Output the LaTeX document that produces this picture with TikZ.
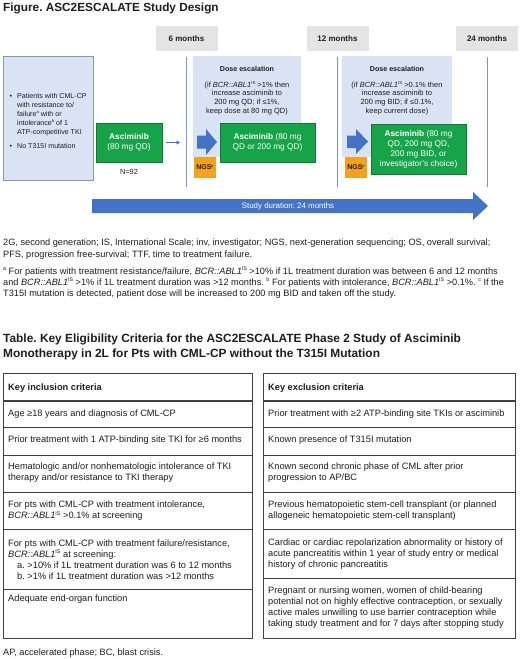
\documentclass[tikz,border=0pt]{standalone}
\usepackage{fontspec}
\setmainfont{Liberation Sans}
\usetikzlibrary{arrows.meta}
\definecolor{lblue}{HTML}{DAE3F3}
\definecolor{lineblue}{HTML}{8497B0}
\definecolor{vblue}{HTML}{7F94C4}
\definecolor{arrblue}{HTML}{4472C4}
\definecolor{ggreen}{HTML}{17A34A}
\definecolor{ggreenb}{HTML}{0F7A37}
\definecolor{ngsor}{HTML}{F4A11D}
\definecolor{mgray}{HTML}{E4E4E4}
\definecolor{tline}{HTML}{404040}
\definecolor{txt}{HTML}{1E1E1E}
\newcommand{\ssup}[1]{\raisebox{0.75ex}{\scalebox{0.58}{#1}}}
\newcommand{\bcr}{\textit{BCR::ABL1}\ssup{IS}}
\newcommand{\fs}[2]{\fontsize{#1}{#2}\selectfont}
\frenchspacing
\begin{document}
\begin{tikzpicture}[x=1pt,y=-1pt,
  every node/.style={text=txt},
  monthbox/.style={fill=mgray, minimum width=62pt, minimum height=25pt, inner sep=0pt, font=\bfseries\fs{8}{9.6}},
  escbox/.style={fill=lblue, inner sep=0pt},
  greenbox/.style={fill=ggreen, draw=ggreenb, line width=0.6pt, inner sep=0pt, text=white, align=center, font=\fs{8.3}{10}},
  ngsbox/.style={fill=ngsor, inner sep=0pt, minimum width=22pt, minimum height=21pt, font=\bfseries\fs{7}{8}},
  vline/.style={draw=vblue, line width=1pt},
  esctitle/.style={inner sep=0pt, font=\bfseries\fs{7.1}{9}},
  esctext/.style={align=center, font=\fs{7.5}{8.7}, inner sep=0pt},
  foot/.style={anchor=west, align=left, inner sep=0pt, font=\fs{9.2}{11.6}},
  cell/.style={anchor=west, align=left, inner sep=0pt, font=\fs{9.25}{11.2}},
  tborder/.style={draw=tline, line width=0.9pt},
  theader/.style={draw=tline, line width=1.4pt},
]
\useasboundingbox (0,0) rectangle (520,659);

% title
\node[anchor=west, inner sep=0pt, font=\bfseries\fs{11.8}{14}] (title) at (3,8) {Figure. ASC2ESCALATE Study Design};

% month boxes
\node[monthbox] (m6) at (186.5,38.5) {6 months};
\node[monthbox] (m12) at (337.5,38.5) {12 months};
\node[monthbox] (m24) at (487,38.5) {24 months};

% escalation boxes
\node[escbox, minimum width=108pt, minimum height=101pt] (esc1) at (247,106.5) {};
\node[escbox, minimum width=110pt, minimum height=101pt] (esc2) at (397,106.5) {};

% vertical lines
\draw[vline] ([yshift=-6pt]m6.south) -- ++(0,130);
\draw[vline] ([yshift=-6pt]m12.south) -- ++(0,130);
\draw[vline] ([yshift=-6pt]m24.south) -- ++(0,130);

% patient box
\node[fill=lblue, draw=lineblue, line width=0.8pt, minimum width=90pt, minimum height=124pt, inner sep=0pt] (pat) at (48,118) {};
\node[anchor=north west, align=left, inner sep=0pt, font=\fs{7.1}{8.9}] (patt) at (9.5,93.5) {%
\makebox[7.5pt][l]{\textbullet}Patients with CML-CP\\
\hspace*{7.5pt}with resistance to/\\
\hspace*{7.5pt}failure\ssup{a} with or\\
\hspace*{7.5pt}intolerance\ssup{b} of 1\\
\hspace*{7.5pt}ATP-competitive TKI\\[5pt]
\makebox[7.5pt][l]{\textbullet}No T315I mutation};

% green boxes
\node[greenbox, minimum width=66pt, minimum height=39pt] (g1) at (129,142.5) {\textbf{Asciminib}\\(80 mg QD)};
\node[inner sep=0pt, font=\fs{7.4}{9}] (n92) at (129,172) {N=92};
\coordinate (sa) at (180,142.5);
\draw[-{Triangle[length=3.5pt,width=4pt]}, arrblue, line width=0.9pt, shorten <=3.5pt] (g1.east) -- (sa);

\node[esctitle] (esc1t) at (247,69) {Dose escalation};
\node[esctext] (esc1d) at (247,98) {(if \bcr{} >1\% then\\increase asciminib to\\200 mg QD; if ≤1\%,\\keep dose at 80 mg QD)};
\node[esctitle] (esc2t) at (397,69) {Dose escalation};
\node[esctext] (esc2d) at (397,98) {(if \bcr{} >0.1\% then\\increase asciminib to\\200 mg BID; if ≤0.1\%,\\keep current dose)};

\node[greenbox, minimum width=95pt, minimum height=39pt] (g2) at (267.5,142.5) {\textbf{Asciminib} (80 mg\\QD or 200 mg QD)};
\node[greenbox, minimum width=95pt, minimum height=50pt] (g3) at (418.5,149) {\textbf{Asciminib} (80 mg\\QD, 200 mg QD,\\200 mg BID, or\\investigator's choice)};

% block arrows
\fill[arrblue] (197,135.5) -- (206,135.5) -- (206,129) -- (217,142) -- (206,155) -- (206,148.5) -- (197,148.5) -- cycle;
\fill[arrblue] (347,135.5) -- (356,135.5) -- (356,129) -- (368,141.5) -- (356,154) -- (356,148) -- (347,148) -- cycle;

% NGS
\node[ngsbox] (ngs1) at (205,167.5) {NGS\ssup{c}};
\node[ngsbox] (ngs2) at (356,167.5) {NGS\ssup{c}};

% study duration arrow
\fill[arrblue] (92,199) -- (473,199) -- (473,192) -- (488,206) -- (473,220) -- (473,213) -- (92,213) -- cycle;
\node[inner sep=0pt, text=white, font=\fs{7.9}{9}] (studyt) at (288,206) {Study duration: 24 months};

% footnotes
\node[foot] (fn1) at (3,249) {2G, second generation; IS, International Scale; inv, investigator; NGS, next-generation sequencing; OS, overall survival;\\PFS, progression free-survival; TTF, time to treatment failure.};
\node[foot, font=\fs{9.2}{11.1}] (fn2) at (3,282.5) {\ssup{a} For patients with treatment resistance/failure, \bcr{} >10\% if 1L treatment duration was between 6 and 12 months\\and \bcr{} >1\% if 1L treatment duration was >12 months. \ssup{b} For patients with intolerance, \bcr{} >0.1\%. \ssup{c} If the\\T315I mutation is detected, patient dose will be increased to 200 mg BID and taken off the study.};

% table title
\node[anchor=west, align=left, inner sep=0pt, font=\bfseries\fs{11.9}{15}] (ttitle) at (3,346.5) {Table. Key Eligibility Criteria for the ASC2ESCALATE Phase 2 Study of Asciminib\\Monotherapy in 2L for Pts with CML-CP without the T315I Mutation};

% left table
\draw[tborder] (3,373) rectangle (252,638);
\draw[theader] (3,401) -- (252,401);
\foreach \yy in {427,455,492,529,589} \draw[tborder] (3,\yy) -- (252,\yy);
% right table
\draw[tborder] (263,373) rectangle (515,638);
\draw[theader] (263,401) -- (515,401);
\foreach \yy in {427,455,492,529,578} \draw[tborder] (263,\yy) -- (515,\yy);

\node[cell, font=\bfseries\fs{9.25}{11.2}] (hl) at (8,388) {Key inclusion criteria};
\node[cell] (l1) at (8,414) {Age ≥18 years and diagnosis of CML-CP};
\node[cell] (l2) at (8,440) {Prior treatment with 1 ATP-binding site TKI for ≥6 months};
\node[cell] (l3) at (8,473) {Hematologic and/or nonhematologic intolerance of TKI\\therapy and/or resistance to TKI therapy};
\node[cell] (l4) at (8,511) {For pts with CML-CP with treatment intolerance,\\\bcr{} >0.1\% at screening};
\node[cell] (l5) at (8,559.5) {For pts with CML-CP with treatment failure/resistance,\\\bcr{} at screening:\\\hspace*{9pt}a. >10\% if 1L treatment duration was 6 to 12 months\\\hspace*{9pt}b. >1\% if 1L treatment duration was >12 months};
\node[cell] (l6) at (8,599) {Adequate end-organ function};

\node[cell, font=\bfseries\fs{9.25}{11.2}] (hr) at (268,388) {Key exclusion criteria};
\node[cell] (r1) at (268,414) {Prior treatment with ≥2 ATP-binding site TKIs or asciminib};
\node[cell] (r2) at (268,440) {Known presence of T315I mutation};
\node[cell] (r3) at (268,473) {Known second chronic phase of CML after prior\\progression to AP/BC};
\node[cell] (r4) at (268,510.5) {Previous hematopoietic stem-cell transplant (or planned\\allogeneic hematopoietic stem-cell transplant)};
\node[cell] (r5) at (268,554) {Cardiac or cardiac repolarization abnormality or history of\\acute pancreatitis within 1 year of study entry or medical\\history of chronic pancreatitis};
\node[cell] (r6) at (268,607.5) {Pregnant or nursing women, women of child-bearing\\potential not on highly effective contraception, or sexually\\active males unwilling to use barrier contraception while\\taking study treatment and for 7 days after stopping study};

\node[foot] (ap) at (3,653) {AP, accelerated phase; BC, blast crisis.};
\end{tikzpicture}
\end{document}
